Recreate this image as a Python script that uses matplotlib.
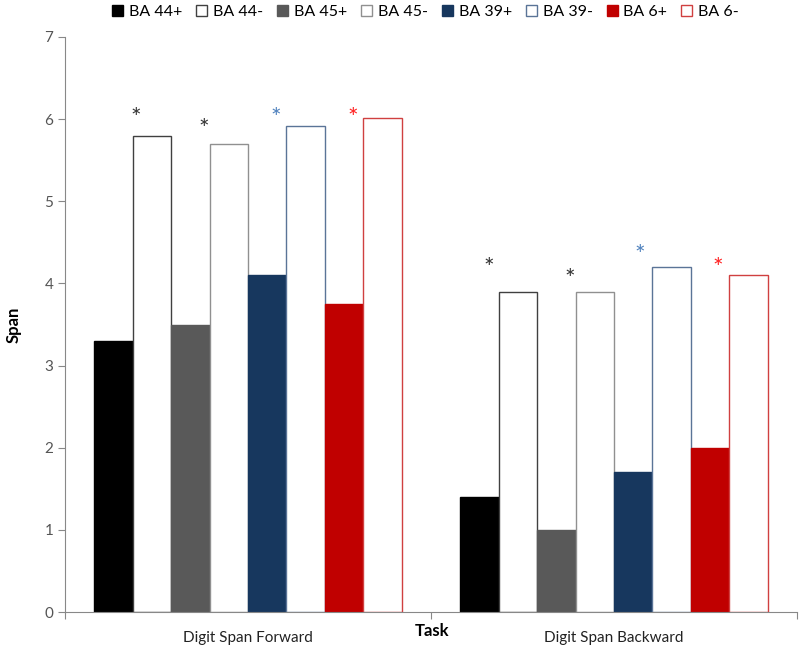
import numpy as np
import matplotlib
matplotlib.use('Agg')
import matplotlib.pyplot as plt
import matplotlib.transforms as mtransforms
from matplotlib.patches import Patch

plt.rcParams['font.family'] = ['Lato', 'DejaVu Sans']

tasks = ['Digit Span Forward', 'Digit Span Backward']
series = ['BA 44+', 'BA 44-', 'BA 45+', 'BA 45-', 'BA 39+', 'BA 39-', 'BA 6+', 'BA 6-']
values = {
    'BA 44+': [3.3, 1.4],
    'BA 44-': [5.8, 3.9],
    'BA 45+': [3.5, 1.0],
    'BA 45-': [5.7, 3.9],
    'BA 39+': [4.1, 1.7],
    'BA 39-': [5.92, 4.2],
    'BA 6+': [3.75, 2.0],
    'BA 6-': [6.02, 4.1],
}
# significance asterisks (x on the task axis 0..2, y in span units)
star_x = {
    'BA 44-': [0.194, 1.158],
    'BA 45-': [0.380, 1.380],
    'BA 39-': [0.576, 1.571],
    'BA 6-': [0.787, 1.784],
}
star_y = {
    'BA 44-': [6.09, 4.27],
    'BA 45-': [5.96, 4.13],
    'BA 39-': [6.09, 4.43],
    'BA 6-': [6.09, 4.27],
}

faces = ['#000000', 'white', '#595959', 'white', '#17375e', 'white', '#c00000', 'white']
edges = ['#000000', '#404040', '#595959', '#909090', '#17375e', '#5a7497', '#c00000', '#d04040']
star_colors = {'BA 44-': '#333333', 'BA 45-': '#333333', 'BA 39-': '#4f81bd', 'BA 6-': '#ff2020'}

fig = plt.figure(figsize=(8, 6.55), dpi=100)
ax = fig.add_axes([65 / 800, 1 - 612 / 655, 732 / 800, 575 / 655])

w = 0.105
x = np.array([0.5, 1.5])
for i, s in enumerate(series):
    off = (i - 3.5) * w
    ax.bar(x + off, values[s], width=w, color=faces[i], edgecolor=edges[i], linewidth=1.0)

# '*' glyph sits high in its text box, shift it down a little
star_tr = mtransforms.offset_copy(ax.transData, fig=fig, x=0, y=-7, units='dots')
for s in star_x:
    for j in range(2):
        ax.text(star_x[s][j], star_y[s][j], '*', ha='center', va='center',
                fontsize=18, color=star_colors[s], transform=star_tr)

ax.set_xlim(0, 2)
ax.set_ylim(0, 7)
ax.set_yticks(range(8))
ax.set_xticks([0, 1, 2])
ax.set_xticklabels([])
ax.set_xticks(x, minor=True)
ax.set_xticklabels(tasks, minor=True, fontsize=11, color='#222222')
ax.tick_params(axis='x', which='minor', length=0, pad=14)
ax.tick_params(axis='x', which='major', length=5, color='#888888')
ax.tick_params(axis='y', labelsize=11, colors='#555555', length=5, color='#888888')
for sp in ['top', 'right']:
    ax.spines[sp].set_visible(False)
for sp in ['left', 'bottom']:
    ax.spines[sp].set_color('#888888')

ax.set_ylabel('Span', fontsize=12, fontweight='bold', labelpad=16)
fig.text(432 / 800, 1 - 631 / 655, 'Task', ha='center', va='center', fontsize=12, fontweight='bold')

handles = [Patch(facecolor=faces[i], edgecolor=edges[i], label=s) for i, s in enumerate(series)]
fig.legend(handles=handles, loc='upper left', bbox_to_anchor=(0.128, 1.007), ncol=8, frameon=False,
           fontsize=11.5, handlelength=0.7, handleheight=0.7, handletextpad=0.35, columnspacing=0.88,
           borderaxespad=0.2)

fig.savefig('out.png', dpi=100)
